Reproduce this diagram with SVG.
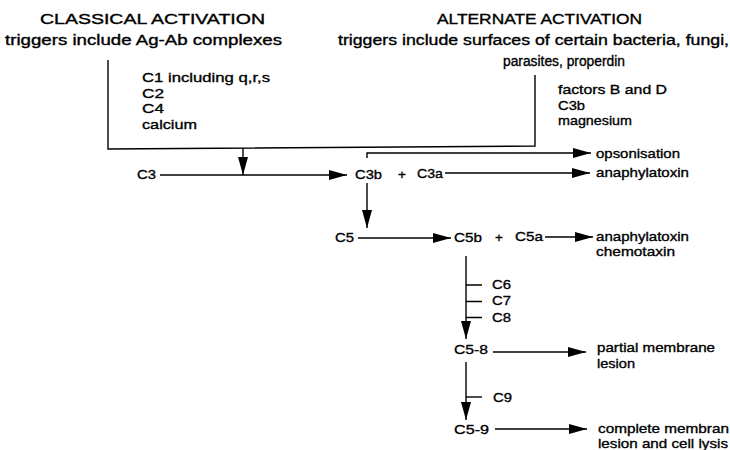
<svg xmlns="http://www.w3.org/2000/svg" width="730" height="450" viewBox="0 0 730 450">
<style>
text{font-family:"Liberation Sans",Arial,Helvetica,sans-serif;font-size:13.5px;fill:#000;stroke:#000;stroke-width:0.35}
.h{font-size:14px}
.ln{stroke:#000;stroke-width:1.4;fill:none}
.ar{stroke:#000;stroke-width:1.4;fill:none;marker-end:url(#ah)}
</style>
<defs>
<marker id="ah" markerUnits="userSpaceOnUse" markerWidth="18" markerHeight="10" refX="18" refY="5" orient="auto">
<path d="M0,0 L18,5 L0,10 Z" fill="#000"/>
</marker>
</defs>
<rect width="730" height="450" fill="#fff"/>
<g id="connectors">
<path class="ln" d="M108,60 V149 L535,146 V75"/>
<path class="ar" d="M243,148 V175"/>
<path class="ar" d="M160,175 H347"/>
<path class="ar" d="M367,158 V153 H591"/>
<path class="ar" d="M445,173 H590"/>
<path class="ar" d="M367,183 V228"/>
<path class="ar" d="M358,238 H451"/>
<path class="ar" d="M545,237 H593"/>
<path class="ar" d="M466,256 V339"/>
<path class="ln" d="M466,285 H482 M466,301.5 H482 M466,317.5 H482"/>
<path class="ar" d="M493,352 H586"/>
<path class="ar" d="M466,362 V420"/>
<path class="ln" d="M466,397 H482"/>
<path class="ar" d="M495,429 H587"/>
</g>
<g id="classical">
<text class="h" x="40" y="24" textLength="225" lengthAdjust="spacingAndGlyphs">CLASSICAL ACTIVATION</text>
<text class="h" x="5" y="45" textLength="277" lengthAdjust="spacingAndGlyphs">triggers include Ag-Ab complexes</text>
</g>
<g id="alternate">
<text class="h" x="437" y="24" textLength="205" lengthAdjust="spacingAndGlyphs">ALTERNATE ACTIVATION</text>
<text class="h" x="338" y="45" textLength="391" lengthAdjust="spacingAndGlyphs">triggers include surfaces of certain bacteria, fungi,</text>
<text class="h" x="503" y="66" textLength="122" lengthAdjust="spacingAndGlyphs">parasites, properdin</text>
</g>
<g id="classical-factors">
<text x="142" y="82" textLength="128" lengthAdjust="spacingAndGlyphs">C1 including q,r,s</text>
<text x="142" y="98" textLength="22" lengthAdjust="spacingAndGlyphs">C2</text>
<text x="142" y="113" textLength="22" lengthAdjust="spacingAndGlyphs">C4</text>
<text x="142" y="129" textLength="55" lengthAdjust="spacingAndGlyphs">calcium</text>
</g>
<g id="alternate-factors">
<text x="558" y="94" textLength="109" lengthAdjust="spacingAndGlyphs">factors B and D</text>
<text x="558" y="110" textLength="27" lengthAdjust="spacingAndGlyphs">C3b</text>
<text x="558" y="125" textLength="74" lengthAdjust="spacingAndGlyphs">magnesium</text>
</g>
<g id="c3"><text x="137" y="179" textLength="19" lengthAdjust="spacingAndGlyphs">C3</text></g>
<g id="c3b-c3a">
<text x="355" y="179" textLength="27" lengthAdjust="spacingAndGlyphs">C3b</text>
<text x="402" y="179" text-anchor="middle">+</text>
<text x="417" y="178" textLength="26" lengthAdjust="spacingAndGlyphs">C3a</text>
</g>
<g id="opsonisation"><text x="596" y="158" textLength="84" lengthAdjust="spacingAndGlyphs">opsonisation</text></g>
<g id="anaphylatoxin1"><text x="596" y="177" textLength="93" lengthAdjust="spacingAndGlyphs">anaphylatoxin</text></g>
<g id="c5"><text x="335" y="242" textLength="19" lengthAdjust="spacingAndGlyphs">C5</text></g>
<g id="c5b-c5a">
<text x="454" y="242" textLength="28" lengthAdjust="spacingAndGlyphs">C5b</text>
<text x="499" y="242" text-anchor="middle">+</text>
<text x="515" y="241" textLength="28" lengthAdjust="spacingAndGlyphs">C5a</text>
</g>
<g id="anaphylatoxin2">
<text x="596" y="241" textLength="93" lengthAdjust="spacingAndGlyphs">anaphylatoxin</text>
<text x="596" y="256" textLength="79" lengthAdjust="spacingAndGlyphs">chemotaxin</text>
</g>
<g id="c6-c8">
<text x="492" y="289" textLength="19" lengthAdjust="spacingAndGlyphs">C6</text>
<text x="492" y="305" textLength="19" lengthAdjust="spacingAndGlyphs">C7</text>
<text x="492" y="322" textLength="19" lengthAdjust="spacingAndGlyphs">C8</text>
</g>
<g id="c5-8"><text x="454" y="354" textLength="34" lengthAdjust="spacingAndGlyphs">C5-8</text></g>
<g id="partial-lesion">
<text x="597" y="352" textLength="118" lengthAdjust="spacingAndGlyphs">partial membrane</text>
<text x="597" y="368" textLength="38" lengthAdjust="spacingAndGlyphs">lesion</text>
</g>
<g id="c9"><text x="493" y="402" textLength="19" lengthAdjust="spacingAndGlyphs">C9</text></g>
<g id="c5-9"><text x="454" y="434" textLength="35" lengthAdjust="spacingAndGlyphs">C5-9</text></g>
<g id="complete-lesion">
<text x="598" y="433" textLength="131" lengthAdjust="spacingAndGlyphs">complete membran</text>
<text x="598" y="448" textLength="130" lengthAdjust="spacingAndGlyphs">lesion and cell lysis</text>
</g>
</svg>
